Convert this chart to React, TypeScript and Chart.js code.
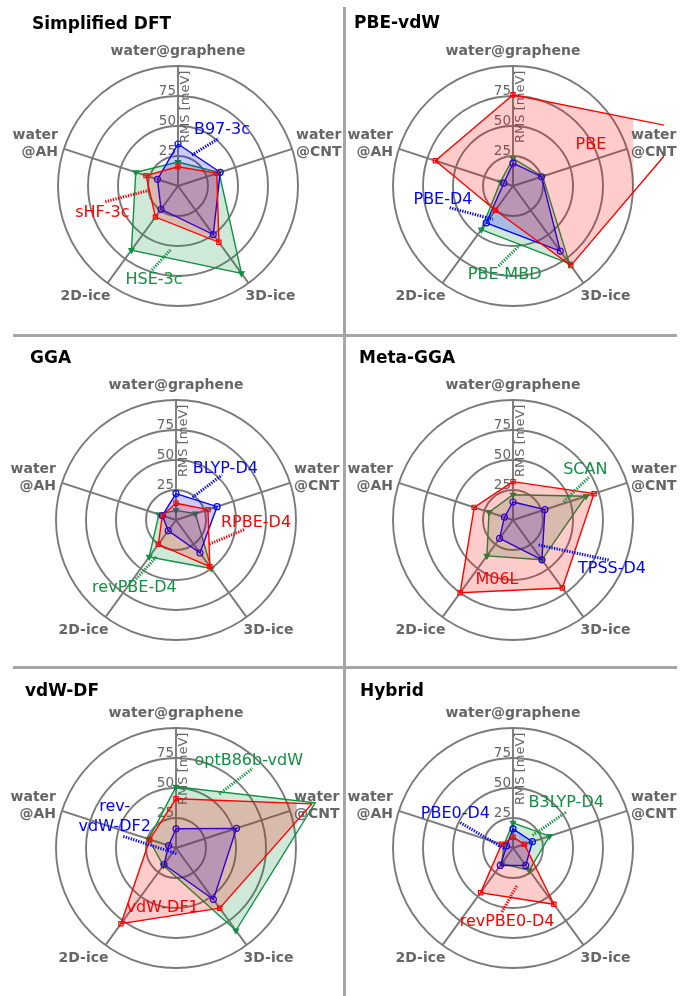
import React, { useEffect, useRef } from "react";
import { Chart, registerables } from "chart.js";

Chart.register(...registerables);

// ---------- data ----------
const categories: string[][] = [["water@graphene"], ["water", "@CNT"], ["3D-ice"], ["2D-ice"], ["water", "@AH"]];
const radialTicks = [25, 50, 75];
const radialMax = 100;
const radialTitle = "RMS [meV]";
const panelTitles = ["Simplified DFT", "PBE-vdW", "GGA", "Meta-GGA", "vdW-DF", "Hybrid"];

// Simplified DFT
const sHF3c = [16, 34, 58, 32, 28];
const b973c = [35, 37, 50, 24, 18];
const hse3c = [20, 36, 90, 66, 37];
// PBE-vdW
const pbe = [76, 152, 82, 25, 68];
const pbeD4 = [19, 25, 67, 38, 8];
const pbeMBD = [23, 26, 80, 45, 11];
// GGA
const rpbeD4 = [14, 28, 48, 25, 12];
const blypD4 = [22, 36, 34, 11, 12];
const revpbeD4 = [8, 17, 50, 38, 15];
// Meta-GGA
const m06l = [32, 71, 70, 75, 34];
const tpssD4 = [15, 28, 41, 19, 7.5];
const scan = [21, 64, 41, 37, 21];
// vdW-DF
const vdwDF1 = [41, 119, 62, 78, 23];
const revVdwDF2 = [16, 53, 53, 17, 6.5];
const optB86bVdw = [51, 122, 85, 18, 24];
// Hybrid
const revpbe0D4 = [9, 10, 58, 46, 10];
const pbe0D4 = [16, 17, 18, 18, 5.6];
const b3lypD4 = [21, 32, 23, 16, 8];

// ---------- styles ----------
type Style = { color: string; fill: string; marker: string; rot: number; solid: boolean };
const RED: Style = { color: "#ff0000", fill: "rgba(255,0,0,0.2)", marker: "rect", rot: 0, solid: false };
const BLUE: Style = { color: "#0000ff", fill: "rgba(0,0,255,0.2)", marker: "circle", rot: 0, solid: false };
const GREEN: Style = { color: "#109040", fill: "rgba(16,144,64,0.2)", marker: "triangle", rot: 180, solid: true };

// note positions in polar data coords: [degrees clockwise from top, value]
type Note = { text: string[]; at: [number, number]; from?: [number, number]; to?: [number, number] };
type Series = { name: string; values: number[]; style: Style; note: Note };
type Panel = { title: string; series: Series[] };

const panels: Panel[] = [
  {
    title: panelTitles[0],
    series: [
      { name: "sHF-3c", values: sHF3c, style: RED, note: { text: ["sHF-3c"], at: [250.8, 66.8], from: [257.8, 62], to: [261.8, 23.3] } },
      { name: "B97-3c", values: b973c, style: BLUE, note: { text: ["B97-3c"], at: [38.2, 59.3], from: [24.3, 28.3], to: [40.5, 52.2] } },
      { name: "HSE-3c", values: hse3c, style: GREEN, note: { text: ["HSE-3c"], at: [194.3, 80.8], from: [197.2, 73.3], to: [186.8, 53.7] } },
    ],
  },
  {
    title: panelTitles[1],
    series: [
      { name: "PBE", values: pbe, style: RED, note: { text: ["PBE"], at: [62.3, 73.4] } },
      { name: "PBE-D4", values: pbeD4, style: BLUE, note: { text: ["PBE-D4"], at: [259.2, 59.4], from: [251.1, 55.8], to: [211, 32.4] } },
      { name: "PBE-MBD", values: pbeMBD, style: GREEN, note: { text: ["PBE-MBD"], at: [185.4, 74], from: [190.2, 67.7], to: [172.8, 49] } },
    ],
  },
  {
    title: panelTitles[2],
    series: [
      { name: "RPBE-D4", values: rpbeD4, style: RED, note: { text: ["RPBE-D4"], at: [91.7, 66.7], from: [125.8, 34.2], to: [97.4, 58.3] } },
      { name: "BLYP-D4", values: blypD4, style: BLUE, note: { text: ["BLYP-D4"], at: [43.7, 59.5], from: [36.3, 23.4], to: [45.6, 53.6] } },
      { name: "revPBE-D4", values: revpbeD4, style: GREEN, note: { text: ["revPBE-D4"], at: [211.7, 66], from: [214.1, 59.4], to: [208, 35] } },
    ],
  },
  {
    title: panelTitles[3],
    series: [
      { name: "M06L", values: m06l, style: RED, note: { text: ["M06L"], at: [195, 51.7] } },
      { name: "TPSS-D4", values: tpssD4, style: BLUE, note: { text: ["TPSS-D4"], at: [116.3, 92], from: [134.2, 29.9], to: [112.7, 86.4] } },
      { name: "SCAN", values: scan, style: GREEN, note: { text: ["SCAN"], at: [55.3, 73.3], from: [70.1, 44.9], to: [60.6, 72.4] } },
    ],
  },
  {
    title: panelTitles[4],
    series: [
      { name: "vdW-DF1", values: vdwDF1, style: RED, note: { text: ["vdW-DF1"], at: [192.7, 50.7] } },
      { name: "rev-vdW-DF2", values: revVdwDF2, style: BLUE, note: { text: ["rev-", "vdW-DF2"], at: [296.6, 57.1], from: [282.5, 45], to: [164.5, 5.2] } },
      { name: "optB86b-vdW", values: optB86bVdw, style: GREEN, note: { text: ["optB86b-vdW"], at: [39.8, 94.7], from: [38.7, 57.7], to: [43.9, 92.1] } },
    ],
  },
  {
    title: panelTitles[5],
    series: [
      { name: "revPBE0-D4", values: revpbe0D4, style: RED, note: { text: ["revPBE0-D4"], at: [184.6, 61.9], from: [189.8, 54.1], to: [173.9, 31.3] } },
      { name: "PBE0-D4", values: pbe0D4, style: BLUE, note: { text: ["PBE0-D4"], at: [300.3, 55.6], from: [295.7, 48.7], to: [249, 5.4] } },
      { name: "B3LYP-D4", values: b3lypD4, style: GREEN, note: { text: ["B3LYP-D4"], at: [49.8, 58.1], from: [57.2, 19.5], to: [56, 53.6] } },
    ],
  },
];

// ---------- layout ----------
const W = 344;
const H = 332;
const R = 120;
type Lay = { ox: number; oy: number; cx: number; cy: number; tx: number; ty: number; clipRight: number };
const layouts: Lay[] = [
  { ox: 0, oy: 0, cx: 178, cy: 186, tx: 32, ty: 29, clipRight: W },
  { ox: 344, oy: 0, cx: 169.3, cy: 186.7, tx: 10, ty: 28, clipRight: 320 },
  { ox: 0, oy: 334, cx: 176.7, cy: 186, tx: 30, ty: 28.5, clipRight: W },
  { ox: 344, oy: 334, cx: 169.3, cy: 186.7, tx: 15, ty: 28.5, clipRight: 320 },
  { ox: 0, oy: 664, cx: 176.7, cy: 184, tx: 25, ty: 32, clipRight: W },
  { ox: 344, oy: 664, cx: 169.3, cy: 184.3, tx: 16, ty: 32, clipRight: 320 },
];
const labelLayout = [
  { align: "center", dx: 0, dy: -135 },
  { align: "left", dx: 118, dy: -42.5 },
  { align: "center", dx: 92.5, dy: 110.7 },
  { align: "center", dx: -92.5, dy: 110.7 },
  { align: "right", dx: -120, dy: -42.5 },
];
const FONT = '"DejaVu Sans", sans-serif';
const GRID = "#7a7a7a";
const TEXT_GRAY = "#666666";

function polar(r: any, deg: number, v: number) {
  return r.getPointPosition(deg / (360 / categories.length), r.getDistanceFromCenterForValue(v));
}

function makeDecor(panel: Panel, lay: Lay) {
  return {
    id: "decor",
    beforeDatasetsDraw(chart: any) {
      const r = chart.scales.r;
      const ctx: CanvasRenderingContext2D = chart.ctx;
      const cx = r.xCenter;
      const cy = r.yCenter;
      ctx.save();
      ctx.fillStyle = "#000";
      ctx.font = `bold 17px ${FONT}`;
      ctx.textAlign = "left";
      ctx.textBaseline = "alphabetic";
      ctx.fillText(panel.title, lay.tx, lay.ty);

      ctx.fillStyle = TEXT_GRAY;
      ctx.font = `bold 14px ${FONT}`;
      ctx.textBaseline = "middle";
      categories.forEach((lines, i) => {
        const L = labelLayout[i];
        ctx.textAlign = L.align as CanvasTextAlign;
        lines.forEach((s, k) => {
          ctx.fillText(s, cx + L.dx, cy + L.dy + (k - (lines.length - 1) / 2) * 17);
        });
      });

      ctx.font = `13.5px ${FONT}`;
      ctx.textAlign = "right";
      radialTicks.forEach((v) => {
        ctx.fillText(String(v), cx - 2, cy - r.getDistanceFromCenterForValue(v) - 5);
      });
      ctx.font = `13px ${FONT}`;
      ctx.translate(cx + 8, cy - r.getDistanceFromCenterForValue(66));
      ctx.rotate(-Math.PI / 2);
      ctx.textAlign = "center";
      ctx.fillText(radialTitle, 0, 0);
      ctx.restore();

      ctx.save();
      ctx.beginPath();
      ctx.rect(0, 0, lay.clipRight, chart.height);
      ctx.clip();
    },
    afterDatasetsDraw(chart: any) {
      const ctx: CanvasRenderingContext2D = chart.ctx;
      ctx.restore();
      const r = chart.scales.r;
      panel.series.forEach((s) => {
        const n = s.note;
        ctx.save();
        if (n.from && n.to) {
          const a = polar(r, n.from[0], n.from[1]);
          const b = polar(r, n.to[0], n.to[1]);
          ctx.strokeStyle = s.style.color;
          ctx.lineWidth = 3;
          ctx.setLineDash([1.3, 1.3]);
          ctx.beginPath();
          ctx.moveTo(a.x, a.y);
          ctx.lineTo(b.x, b.y);
          ctx.stroke();
        }
        ctx.setLineDash([]);
        ctx.fillStyle = s.style.color;
        ctx.font = `16px ${FONT}`;
        ctx.textAlign = "center";
        ctx.textBaseline = "middle";
        const p = polar(r, n.at[0], n.at[1]);
        n.text.forEach((t, k) => {
          ctx.fillText(t, p.x, p.y + (k - (n.text.length - 1) / 2) * 20);
        });
        ctx.restore();
      });
    },
  };
}

function RadarPanel({ panel, lay }: { panel: Panel; lay: Lay }) {
  const ref = useRef<HTMLCanvasElement>(null);
  useEffect(() => {
    if (!ref.current) return;
    const chart = new Chart(ref.current, {
      type: "radar",
      data: {
        labels: categories,
        datasets: panel.series.map((s) => ({
          label: s.name,
          data: s.values,
          borderColor: s.style.color,
          backgroundColor: s.style.fill,
          fill: true,
          borderWidth: 1.4,
          tension: 0,
          clip: false,
          pointStyle: s.style.marker,
          pointRotation: s.style.rot,
          pointRadius: 3,
          pointBorderWidth: 1.2,
          pointBorderColor: s.style.color,
          pointBackgroundColor: s.style.solid ? s.style.color : "rgba(0,0,0,0)",
        })) as any,
      },
      options: {
        responsive: false,
        animation: false,
        events: [],
        layout: {
          padding: {
            left: lay.cx - R,
            top: lay.cy - R,
            right: W - lay.cx - R,
            bottom: H - lay.cy - R,
          },
        },
        plugins: { legend: { display: false }, tooltip: { enabled: false } },
        scales: {
          r: {
            min: 0,
            max: radialMax,
            ticks: { display: false, stepSize: 25 },
            grid: { color: GRID, lineWidth: 1.9, circular: true },
            angleLines: { color: GRID, lineWidth: 1.9 },
            pointLabels: { display: false },
          },
        },
      } as any,
      plugins: [makeDecor(panel, lay) as any],
    });
    return () => chart.destroy();
  }, [panel, lay]);
  return (
    <canvas
      ref={ref}
      width={W}
      height={H}
      style={{ position: "absolute", left: lay.ox, top: lay.oy, width: W, height: H }}
    />
  );
}

export default function App() {
  const sep = "#a6a6a6";
  return (
    <div style={{ position: "absolute", left: 0, top: 0, width: 688, height: 996, background: "#fff", overflow: "hidden" }}>
      {panels.map((p, i) => (
        <RadarPanel key={i} panel={p} lay={layouts[i]} />
      ))}
      <div style={{ position: "absolute", left: 343, top: 7, width: 3, height: 989, background: sep }} />
      <div style={{ position: "absolute", left: 13, top: 334, width: 664, height: 3, background: sep }} />
      <div style={{ position: "absolute", left: 13, top: 666, width: 664, height: 3, background: sep }} />
    </div>
  );
}
